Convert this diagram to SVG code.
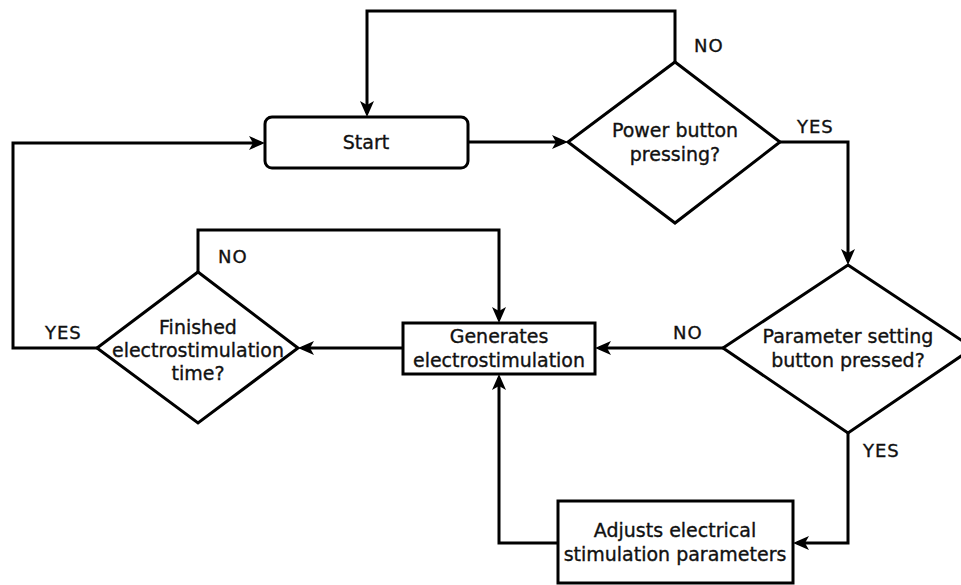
<svg xmlns="http://www.w3.org/2000/svg" width="961" height="585" viewBox="0 0 961 585">
  <style>
    .shape { fill: #ffffff; stroke: #000000; stroke-width: 3; }
    .edge { fill: none; stroke: #000000; stroke-width: 3; marker-end: url(#arrow); }
    text { font-family: "DejaVu Sans", "Liberation Sans", sans-serif; font-size: 19px; fill: #111111; stroke: #111111; stroke-width: 0.35; text-anchor: middle; }
    .lbl { font-size: 18px; letter-spacing: 1px; text-anchor: start; }
  </style>
  <defs>
    <marker id="arrow" markerUnits="userSpaceOnUse" markerWidth="18" markerHeight="16" refX="12" refY="7" orient="auto">
      <path d="M0,0 L16,7 L0,14 L4,7 Z" fill="#000000"/>
    </marker>
  </defs>
  <rect width="961" height="585" fill="#ffffff"/>

  <!-- connectors -->
  <g id="connectors">
    <path class="edge" d="M675,62 V11 H367 V113"/>
    <path class="edge" d="M468,142 H564"/>
    <path class="edge" d="M780,142 H848 V261"/>
    <path class="edge" d="M723,348 H599"/>
    <path class="edge" d="M848,433 V543 H797"/>
    <path class="edge" d="M558,543 H499 V378"/>
    <path class="edge" d="M403,348 H302"/>
    <path class="edge" d="M198,272 V230 H499 V319"/>
    <path class="edge" d="M97,348 H13 V143 H261"/>
  </g>

  <!-- branch labels -->
  <g id="labels">
    <text class="lbl" x="694" y="52">NO</text>
    <text class="lbl" x="797" y="133">YES</text>
    <text class="lbl" x="673" y="339">NO</text>
    <text class="lbl" x="863" y="457">YES</text>
    <text class="lbl" x="218" y="263">NO</text>
    <text class="lbl" x="45" y="339">YES</text>
  </g>

  <g id="start">
    <rect class="shape" x="265" y="117" width="203" height="51" rx="7"/>
    <text x="366" y="149">Start</text>
  </g>

  <g id="power-check">
    <polygon class="shape" points="675,62 780,142 675,223 568,142"/>
    <text x="675" y="137">Power button</text>
    <text x="675" y="161">pressing?</text>
  </g>

  <g id="parameter-check">
    <polygon class="shape" points="848,265 973,348 848,433 723,348"/>
    <text x="848" y="343">Parameter setting</text>
    <text x="848" y="367">button pressed?</text>
  </g>

  <g id="generate">
    <rect class="shape" x="403" y="323" width="192" height="51"/>
    <text x="499" y="343">Generates</text>
    <text x="499" y="367">electrostimulation</text>
  </g>

  <g id="finished-check">
    <polygon class="shape" points="198,272 298,348 198,423 97,348"/>
    <text x="198" y="334">Finished</text>
    <text x="198" y="357">electrostimulation</text>
    <text x="198" y="380">time?</text>
  </g>

  <g id="adjust">
    <rect class="shape" x="558" y="501" width="235" height="82"/>
    <text x="675" y="537">Adjusts electrical</text>
    <text x="675" y="561">stimulation parameters</text>
  </g>
</svg>
